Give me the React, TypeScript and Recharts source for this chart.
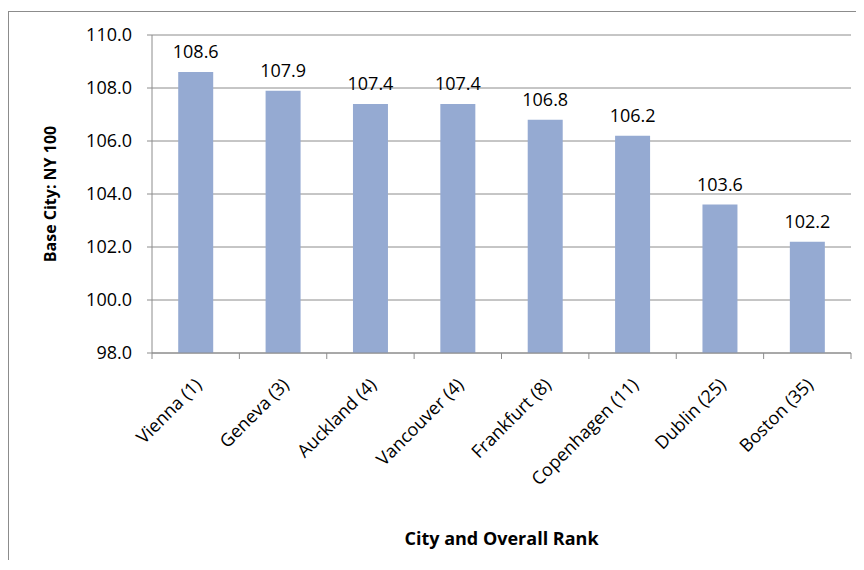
import React from "react";
import {
  BarChart,
  Bar,
  XAxis,
  YAxis,
  CartesianGrid,
  LabelList,
} from "recharts";

const cities = [
  "Vienna (1)",
  "Geneva (3)",
  "Auckland (4)",
  "Vancouver (4)",
  "Frankfurt (8)",
  "Copenhagen (11)",
  "Dublin (25)",
  "Boston (35)",
];
const scores = [108.6, 107.9, 107.4, 107.4, 106.8, 106.2, 103.6, 102.2];
const yTicks = [98, 100, 102, 104, 106, 108, 110];

const data = cities.map((name, i) => ({ name, value: scores[i] }));

const W = 855;
const H = 548;
const M = { top: 23, right: 13, left: 0, bottom: 0 };
const Y_W = 143;
const BAND = (W - M.right - Y_W) / cities.length;
const AXIS = "#8c8c8c";

function CityTick(props: any) {
  const { x, y, payload, index } = props;
  const left = x - BAND / 2;
  const tx = x + 7;
  const ty = y + 33;
  return (
    <g>
      <line x1={left} y1={y} x2={left} y2={y + 6} stroke={AXIS} />
      {index === cities.length - 1 && (
        <line x1={x + BAND / 2} y1={y} x2={x + BAND / 2} y2={y + 6} stroke={AXIS} />
      )}
      <text
        x={tx}
        y={ty}
        textAnchor="end"
        fontSize={18}
        fill="#000"
        transform={`rotate(-45, ${tx}, ${ty})`}
      >
        {payload.value}
      </text>
    </g>
  );
}

export default function App() {
  return (
    <div
      style={{
        marginTop: 3,
        width: W,
        height: H,
        borderTop: `1px solid ${AXIS}`,
        borderLeft: `1px solid ${AXIS}`,
        fontFamily: "'Open Sans', sans-serif",
      }}
    >
      <BarChart width={W} height={H} data={data} margin={M} barCategoryGap="30%">
        <CartesianGrid vertical={false} stroke={AXIS} />
        <XAxis
          dataKey="name"
          interval={0}
          height={H - 341}
          tickSize={0}
          tickMargin={0}
          tickLine={false}
          axisLine={{ stroke: AXIS }}
          tick={<CityTick />}
          label={{
            content: ({ viewBox }: any) => (
              <text
                x={viewBox.x + viewBox.width / 2}
                y={533}
                textAnchor="middle"
                fontSize={18}
                fontWeight="bold"
                fill="#000"
              >
                City and Overall Rank
              </text>
            ),
          }}
        />
        <YAxis
          width={Y_W}
          domain={[98, 110]}
          ticks={yTicks}
          tickFormatter={(v: number) => v.toFixed(1)}
          tickSize={5}
          tickMargin={15}
          tick={{ fill: "#000", fontSize: 18 }}
          tickLine={{ stroke: AXIS }}
          axisLine={{ stroke: AXIS }}
          label={{
            content: ({ viewBox }: any) => {
              const cx = 41;
              const cy = viewBox.y + viewBox.height / 2;
              return (
                <text
                  x={cx}
                  y={cy}
                  textAnchor="middle"
                  dominantBaseline="central"
                  fontSize={16}
                  fontWeight="bold"
                  fill="#000"
                  transform={`rotate(-90, ${cx}, ${cy})`}
                >
                  Base City: NY 100
                </text>
              );
            },
          }}
        />
        <Bar dataKey="value" fill="#95aad2" isAnimationActive={false}>
          <LabelList
            dataKey="value"
            position="top"
            offset={14}
            formatter={(v: any) => Number(v).toFixed(1)}
            style={{ fill: "#000", fontSize: 18 }}
          />
        </Bar>
      </BarChart>
    </div>
  );
}
